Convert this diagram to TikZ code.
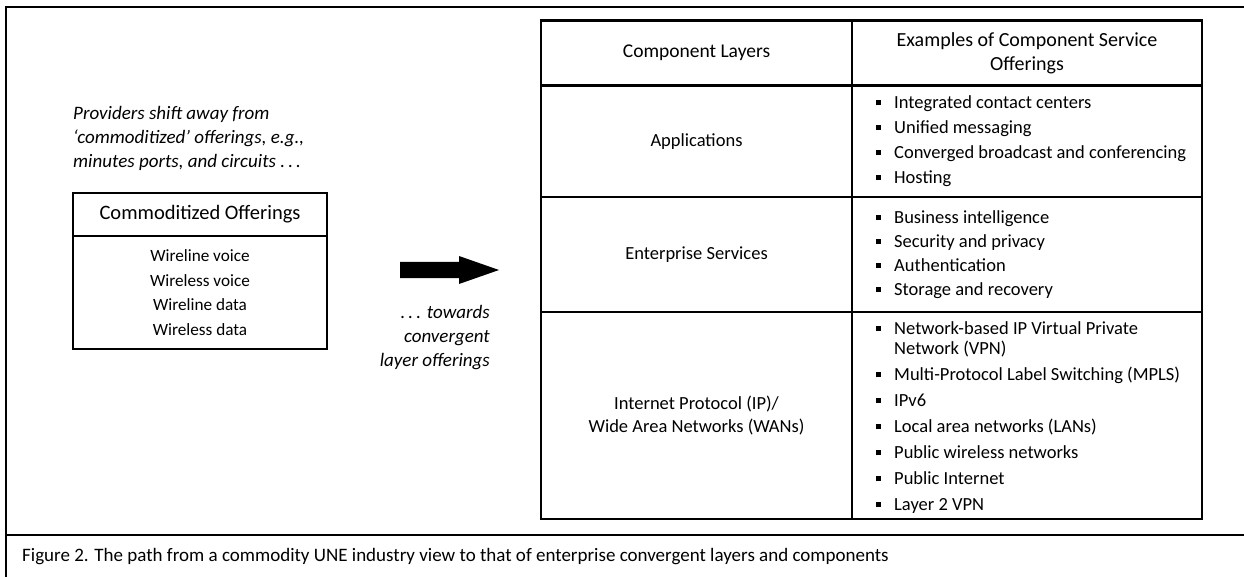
\documentclass[tikz,border=0pt]{standalone}
\usepackage{fontspec}
\setmainfont{Carlito}
\usepackage{tikz}
\usetikzlibrary{positioning}
\newcommand{\sqitem}{\makebox[18pt][l]{\rule[3.5pt]{5pt}{5pt}}}

\begin{document}
\begin{tikzpicture}[
    x=1pt, y=-1pt,
    frameline/.style={line width=2.8pt},
    cell/.style={rectangle, draw, line width=2.6pt, inner sep=0pt},
    headtext/.style={font=\fontsize{19.5}{24}\selectfont, align=center},
    bodytext/.style={font=\fontsize{18.5}{23}\selectfont, align=center},
    listtext/.style={font=\fontsize{18.5}{20}\selectfont, align=left, anchor=west, inner sep=0pt},
    notetext/.style={font=\fontsize{19}{24}\selectfont\itshape, inner sep=0pt}
]
    \useasboundingbox (0,0) rectangle (1244,577);

    % outer frame and caption rule
    \draw[frameline] (6,578) -- (6,7) -- (1245,7);
    \draw[frameline] (6,535) -- (1245,535);
    \node[font=\fontsize{19}{22}\selectfont, anchor=west, inner sep=0pt] (caption) at (22,557) {
        Figure 2. The path from a commodity UNE industry view to that of enterprise convergent layers and components
    };

    % left side: commodity offerings
    \node[notetext, anchor=north west, align=left] (shiftnote) at (73,106) {
        Providers shift away from\\
        `commoditized' offerings, e.g.,\\
        minutes ports, and circuits .\,.\,.
    };
    \node[cell, minimum width=254, minimum height=43, font=\fontsize{20.5}{24}\selectfont] (commhead) at (200,214.5) {Commoditized Offerings};
    \node[cell, minimum width=254, minimum height=113, font=\fontsize{17.2}{24.5}\selectfont, align=center] (commlist) at (200,292.5) {
        Wireline voice\\ Wireless voice\\ Wireline data\\ Wireless data
    };

    % the shift arrow
    \fill (400,262) -- (459,262) -- (459,256) -- (499,270) -- (459,284) -- (459,278) -- (400,278) -- cycle;
    \node[notetext, anchor=north east, align=right] (towardsnote) at (490,305) {
        .\,.\,. towards\\ convergent\\ layer offerings
    };

    % right side: layer table
    \node[cell, minimum width=311, minimum height=65, headtext] (layerhead) at (696.5,53) {Component Layers};
    \node[cell, minimum width=350, minimum height=65, headtext, font=\fontsize{20}{24}\selectfont] (offerhead) at (1027,53) {Examples of Component Service\\ Offerings};
    \node[cell, minimum width=311, minimum height=111.5, bodytext] (apps) at (696.5,141.25) {Applications};
    \node[cell, minimum width=350, minimum height=111.5] (appscell) at (1027,141.25) {};
    \node[cell, minimum width=311, minimum height=115, bodytext] (ent) at (696.5,254.5) {Enterprise Services};
    \node[cell, minimum width=350, minimum height=115] (entcell) at (1027,254.5) {};
    \node[cell, minimum width=311, minimum height=207, bodytext] (ipwan) at (696.5,415.5) {Internet Protocol (IP)/\\ Wide Area Networks (WANs)};
    \node[cell, minimum width=350, minimum height=207] (ipwancell) at (1027,415.5) {};

    \node[listtext] (appslist) at (876,141.5) {
        \sqitem Integrated contact centers\\[5pt]
        \sqitem Unified messaging\\[5pt]
        \sqitem Converged broadcast and conferencing\\[5pt]
        \sqitem Hosting
    };
    \node[listtext] (entlist) at (876,255) {
        \sqitem Business intelligence\\[4pt]
        \sqitem Security and privacy\\[4pt]
        \sqitem Authentication\\[4pt]
        \sqitem Storage and recovery
    };
    \node[listtext] (ipwanlist) at (876,418) {
        \sqitem Network-based IP Virtual Private\\
        \hspace*{18pt}Network (VPN)\\[6pt]
        \sqitem Multi-Protocol Label Switching (MPLS)\\[6pt]
        \sqitem IPv6\\[6pt]
        \sqitem Local area networks (LANs)\\[6pt]
        \sqitem Public wireless networks\\[6pt]
        \sqitem Public Internet\\[6pt]
        \sqitem Layer 2 VPN
    };
\end{tikzpicture}
\end{document}
